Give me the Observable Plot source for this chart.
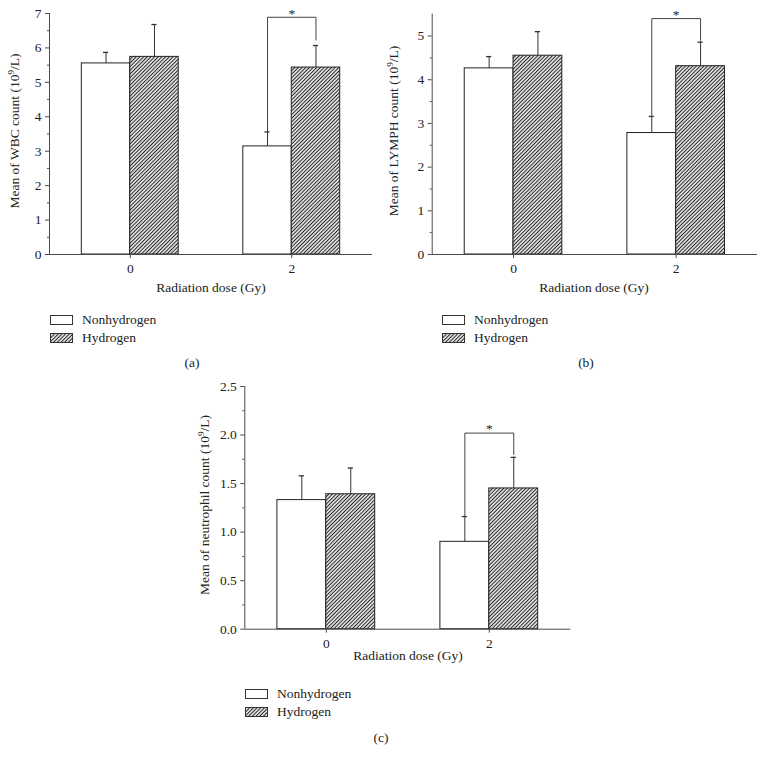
<!DOCTYPE html>
<html>
<head>
<meta charset="utf-8">
<script src="https://cdn.jsdelivr.net/npm/d3@7"></script>
<script src="https://cdn.jsdelivr.net/npm/@observablehq/plot@0.6"></script>
<style>
  html, body { margin: 0; padding: 0; background: #fff; }
  body { width: 765px; height: 764px; position: relative; overflow: hidden;
         font-family: "Liberation Serif", "DejaVu Serif", serif; color: #222; }
  .ctr { position: absolute; transform: translate(-50%, -50%); white-space: nowrap; font-size: 13.5px; }
  .ylab { position: absolute; transform: translate(-50%, -50%) rotate(-90deg); white-space: nowrap; font-size: 13.5px; }
  sup { font-size: 0.68em; vertical-align: 0.55em; line-height: 0; }
  .leg { position: absolute; font-size: 13.5px; line-height: 18px; }
  .leg div { display: flex; align-items: center; height: 18px; }
  .leg svg { margin-right: 8px; }
</style>
</head>
<body>
<svg width="0" height="0" style="position:absolute">
  <defs>
    <pattern id="hatch" patternUnits="userSpaceOnUse" width="2.6" height="2.6" patternTransform="rotate(45)">
      <rect width="2.6" height="2.6" fill="#fff"></rect>
      <line x1="1.3" y1="0" x2="1.3" y2="2.6" stroke="#222" stroke-width="1.15"></line>
    </pattern>
  </defs>
</svg>
<script>
// ---------- data ----------
const doses = [0, 2];
const groups = ["Nonhydrogen", "Hydrogen"];
const xTicks = [0, 2];
const xLabel = "Radiation dose (Gy)";

// (a) WBC
const wbcNonMean = [5.55, 3.14];
const wbcNonSD   = [0.32, 0.42];
const wbcHydMean = [5.74, 5.43];
const wbcHydSD   = [0.94, 0.64];
const wbcBracket = [3.56, 6.89, 6.23]; // left end, top, right end (at dose 2)
const wbcTicks = [0, 1, 2, 3, 4, 5, 6, 7];
const wbcMinor = [0.5, 1.5, 2.5, 3.5, 4.5, 5.5, 6.5];

// (b) LYMPH
const lymNonMean = [4.26, 2.78];
const lymNonSD   = [0.27, 0.38];
const lymHydMean = [4.55, 4.31];
const lymHydSD   = [0.55, 0.55];
const lymBracket = [3.16, 5.40, 4.90];
const lymTicks = [0, 1, 2, 3, 4, 5];
const lymMinor = [0.5, 1.5, 2.5, 3.5, 4.5];

// (c) neutrophil
const neuNonMean = [1.33, 0.90];
const neuNonSD   = [0.25, 0.26];
const neuHydMean = [1.39, 1.45];
const neuHydSD   = [0.27, 0.32];
const neuBracket = [1.16, 2.02, 1.80];
const neuTicks = [0, 0.5, 1.0, 1.5, 2.0, 2.5];
const neuMinor = [0.25, 0.75, 1.25, 1.75, 2.25];

// ---------- drawing ----------
const BW = 0.6;    // bar width in dose units
const CAP = 0.032; // half error-cap width in dose units
const AXIS = "#4a4a4a";
const INK = "#222";

function rowsFor(nonMean, nonSD, hydMean, hydSD) {
  const rows = [];
  doses.forEach((d, i) => {
    rows.push({dose: d, group: groups[0], mean: nonMean[i], sd: nonSD[i], x1: d - BW, x2: d, cx: d - BW / 2});
    rows.push({dose: d, group: groups[1], mean: hydMean[i], sd: hydSD[i], x1: d, x2: d + BW, cx: d + BW / 2});
  });
  return rows;
}

function panel(cfg) {
  const rows = rowsFor(cfg.nonMean, cfg.nonSD, cfg.hydMean, cfg.hydSD);
  const sigDose = doses[1];
  const br = cfg.bracket;
  const bracketPts = [
    {x: sigDose - BW / 2, y: br[0]},
    {x: sigDose - BW / 2, y: br[1]},
    {x: sigDose + BW / 2, y: br[1]},
    {x: sigDose + BW / 2, y: br[2]}
  ];
  const plot = Plot.plot({
    width: cfg.width, height: cfg.height,
    marginLeft: cfg.ml, marginRight: cfg.mr, marginTop: cfg.mt, marginBottom: cfg.mb,
    x: {domain: [-1, 3]},
    y: {domain: [0, cfg.yMax]},
    style: {fontFamily: '"Liberation Serif", serif', fontSize: "13.5px", color: INK, background: "transparent", overflow: "visible"},
    marks: [
      Plot.rect(rows.filter(d => d.group === groups[0]), {x1: "x1", x2: "x2", y1: () => 0, y2: "mean", fill: "#fff", stroke: INK, strokeWidth: 1}),
      Plot.rect(rows.filter(d => d.group === groups[1]), {x1: "x1", x2: "x2", y1: () => 0, y2: "mean", fill: "url(#hatch)", stroke: INK, strokeWidth: 1}),
      Plot.ruleX(rows, {x: "cx", y1: "mean", y2: d => d.mean + d.sd, stroke: "#333", strokeWidth: 1}),
      Plot.ruleY(rows, {y: d => d.mean + d.sd, x1: d => d.cx - CAP, x2: d => d.cx + CAP, stroke: "#333", strokeWidth: 1.3}),
      Plot.line(bracketPts, {x: "x", y: "y", stroke: "#444", strokeWidth: 1}),
      Plot.text([{x: sigDose, y: br[1]}], {x: "x", y: "y", text: () => "*", dy: -4, fontSize: 13.5, fill: INK}),
      Plot.ruleY([0], {stroke: AXIS, strokeWidth: 1}),
      Plot.ruleX([-1], {stroke: AXIS, strokeWidth: 1}),
      Plot.axisY({ticks: cfg.yTicks, tickSize: 4, tickPadding: 4, tickFormat: cfg.fmt, label: null, stroke: AXIS, fill: INK}),
      Plot.axisY({ticks: cfg.yMinor, tickSize: 2, tickFormat: () => "", label: null, stroke: AXIS}),
      Plot.axisX({ticks: xTicks, tickSize: 4, tickPadding: 5, tickFormat: d => String(d), label: null, stroke: AXIS, fill: INK})
    ]
  });
  plot.style.position = "absolute";
  plot.style.left = cfg.left + "px";
  plot.style.top = cfg.top + "px";
  document.body.appendChild(plot);

  // y label
  const yl = document.createElement("div");
  yl.className = "ylab";
  yl.innerHTML = cfg.ylabel;
  yl.style.left = cfg.ylx + "px";
  yl.style.top = cfg.yly + "px";
  document.body.appendChild(yl);

  // x label
  const xl = document.createElement("div");
  xl.className = "ctr";
  xl.textContent = xLabel;
  xl.style.left = cfg.xlx + "px";
  xl.style.top = cfg.xly + "px";
  document.body.appendChild(xl);

  // legend
  const lg = document.createElement("div");
  lg.className = "leg";
  lg.style.left = cfg.legx + "px";
  lg.style.top = cfg.legy + "px";
  groups.forEach((g, i) => {
    const row = document.createElement("div");
    const fill = i === 0 ? "#fff" : "url(#hatch)";
    row.innerHTML = `<svg width="24" height="11"><rect x="0.5" y="0.5" width="22" height="9" fill="${fill}" stroke="#333" stroke-width="1"></rect></svg><span>${g}</span>`;
    lg.appendChild(row);
  });
  document.body.appendChild(lg);

  // panel letter
  const pl = document.createElement("div");
  pl.className = "ctr";
  pl.textContent = cfg.letter;
  pl.style.left = cfg.plx + "px";
  pl.style.top = cfg.ply + "px";
  document.body.appendChild(pl);
}

panel({
  nonMean: wbcNonMean, nonSD: wbcNonSD, hydMean: wbcHydMean, hydSD: wbcHydSD, bracket: wbcBracket,
  yMax: 7, yTicks: wbcTicks, yMinor: wbcMinor, fmt: d => String(d),
  width: 382, height: 300, ml: 49, mr: 10, mt: 13, mb: 46, left: 0, top: 0,
  ylabel: "Mean of WBC count (10<sup>9</sup>/L)", ylx: 15, yly: 131,
  xlx: 211, xly: 288, legx: 50, legy: 311, plx: 192, ply: 363, letter: "(a)"
});

panel({
  nonMean: lymNonMean, nonSD: lymNonSD, hydMean: lymHydMean, hydSD: lymHydSD, bracket: lymBracket,
  yMax: 5.5, yTicks: lymTicks, yMinor: lymMinor, fmt: d => String(d),
  width: 383, height: 300, ml: 49.7, mr: 8, mt: 13.7, mb: 46, left: 382, top: 0,
  ylabel: "Mean of LYMPH count (10<sup>9</sup>/L)", ylx: 394, yly: 131,
  xlx: 594, xly: 288, legx: 442, legy: 311, plx: 586, ply: 363, letter: "(b)"
});

panel({
  nonMean: neuNonMean, nonSD: neuNonSD, hydMean: neuHydMean, hydSD: neuHydSD, bracket: neuBracket,
  yMax: 2.5, yTicks: neuTicks, yMinor: neuMinor, fmt: d3.format(".1f"),
  width: 390, height: 300, ml: 54.3, mr: 9.7, mt: 16, mb: 41.3, left: 190, top: 370,
  ylabel: "Mean of neutrophil count (10<sup>9</sup>/L)", ylx: 205, yly: 505,
  xlx: 408, xly: 656, legx: 245, legy: 685, plx: 381, ply: 738, letter: "(c)"
});
</script>
</body>
</html>
